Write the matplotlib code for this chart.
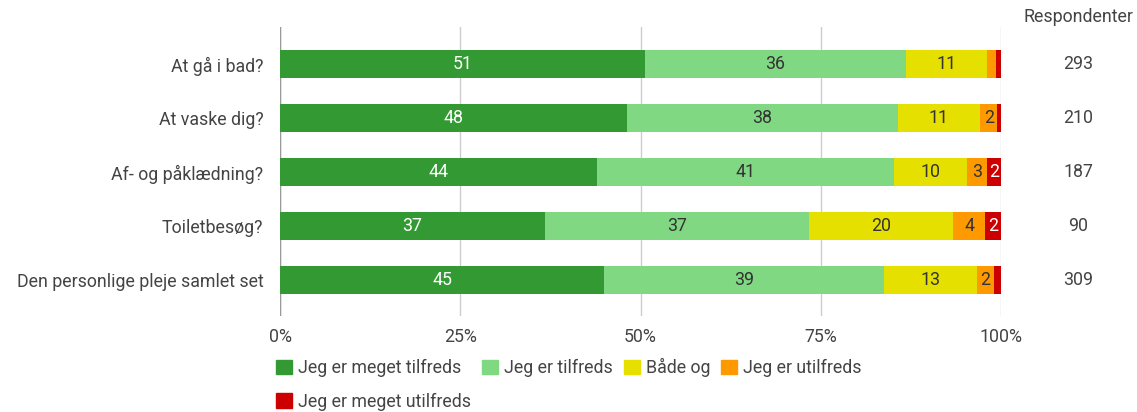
import matplotlib
matplotlib.use("Agg")
import matplotlib.pyplot as plt
import matplotlib.transforms as mtransforms
from matplotlib.patches import Patch

plt.rcParams['font.family'] = ['Roboto', 'DejaVu Sans']

categories = ["At gå i bad?", "At vaske dig?", "Af- og påklædning?", "Toiletbesøg?",
              "Den personlige pleje samlet set"]
series_names = ["Jeg er meget tilfreds", "Jeg er tilfreds", "Både og",
                "Jeg er utilfreds", "Jeg er meget utilfreds"]
meget_tilfreds = [50.6, 48.1, 43.9, 36.7, 45.0]
tilfreds = [36.2, 37.6, 41.2, 36.7, 38.8]
baade_og = [11.2, 11.4, 10.2, 20.0, 12.9]
utilfreds = [1.3, 2.4, 2.7, 4.4, 2.3]
meget_utilfreds = [0.7, 0.5, 2.1, 2.2, 1.0]
respondenter = [293, 210, 187, 90, 309]
xticks = [0, 25, 50, 75, 100]
xtick_labels = ["0%", "25%", "50%", "75%", "100%"]

series = [meget_tilfreds, tilfreds, baade_og, utilfreds, meget_utilfreds]
colors = ["#339933", "#80d883", "#e6e000", "#ff9900", "#cc0000"]
text_colors = ["white", "#333333", "#333333", "#333333", "white"]
gray = "#444444"
FS = 12.8

W, H = 1137, 412
fig = plt.figure(figsize=(W / 100, H / 100), dpi=100)
ax = fig.add_axes([280 / W, 1 - 316 / H, (1001 - 280) / W, (316 - 27) / H])

ypos = list(range(len(categories)))
left = [0.0] * len(categories)
for vals, col, tcol in zip(series, colors, text_colors):
    ax.barh(ypos, vals, left=left, height=0.52, color=col, zorder=3)
    for i, v in enumerate(vals):
        if round(v) >= 2:
            ax.text(left[i] + v / 2, i, f"{round(v)}", ha="center", va="center",
                    color=tcol, fontsize=FS, zorder=4)
    left = [l + v for l, v in zip(left, vals)]

ax.set_xlim(0, 100)
ax.set_ylim(4.667, -0.685)
ax.set_xticks(xticks)
ax.set_xticklabels(xtick_labels, color=gray, fontsize=FS)
ax.set_yticks(ypos)
ax.set_yticklabels(categories, color=gray, fontsize=FS)
ax.tick_params(axis="both", length=0)
ax.tick_params(axis="x", pad=9)
ax.tick_params(axis="y", pad=12)
ax.grid(axis="x", color="#cccccc", linewidth=1, zorder=0)
for s in ax.spines.values():
    s.set_visible(False)
ax.axvline(0, color="#999999", linewidth=1, zorder=2)

# Respondenter column
fig.text(1078 / W, 1 - 17 / H, "Respondenter", ha="center", va="center",
         color=gray, fontsize=FS)
trans = mtransforms.blended_transform_factory(fig.transFigure, ax.transData)
for i, n in enumerate(respondenter):
    ax.text(1078 / W, i, str(n), ha="center", va="center", color=gray,
            fontsize=FS, transform=trans, clip_on=False)

handles = [Patch(facecolor=c, edgecolor=c) for c in colors]
order = [0, 4, 1, 2, 3]
fig.legend([handles[k] for k in order], [series_names[k] for k in order],
           loc="upper left", ncol=4,
           bbox_to_anchor=(276 / W, 1 - 358 / H), frameon=False,
           fontsize=FS, handlelength=0.9, handleheight=0.9,
           handletextpad=0.35, columnspacing=0.6, labelspacing=0.88,
           labelcolor=gray, borderaxespad=0, borderpad=0)

fig.savefig("out.png", dpi=100)
